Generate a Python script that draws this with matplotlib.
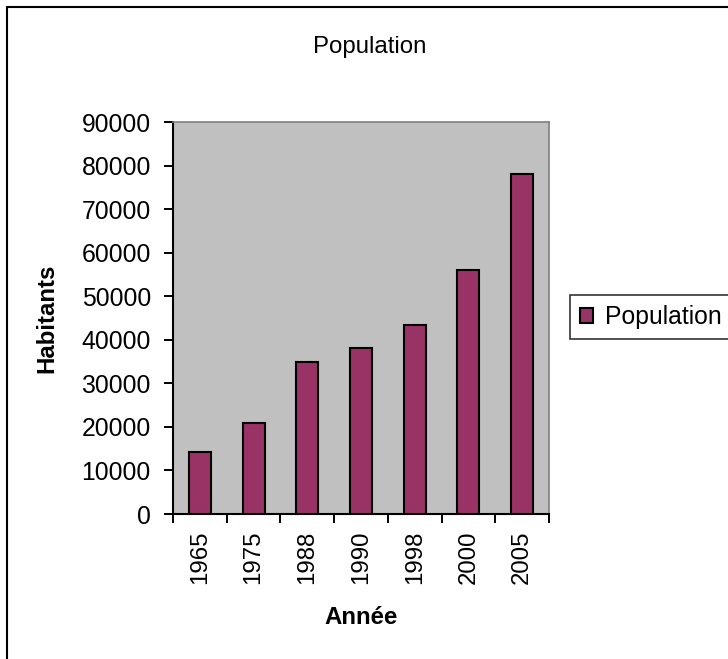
import numpy as np
import matplotlib.pyplot as plt
from matplotlib.patches import Rectangle

plt.rcParams['font.family'] = ['Liberation Sans', 'DejaVu Sans']

# Data
years = ['1965', '1975', '1988', '1990', '1998', '2000', '2005']
population = [14300, 21000, 35000, 38000, 43500, 56000, 78000]
y_ticks = [0, 10000, 20000, 30000, 40000, 50000, 60000, 70000, 80000, 90000]

FS = 17.3

fig = plt.figure(figsize=(7.28, 6.59), dpi=100)
fig.patch.set_facecolor('white')

# outer chart frame (runs off right and bottom edges)
fig.patches.append(Rectangle((7 / 728, -0.05), 1.0, 1 - 7 / 659 + 0.05,
                             transform=fig.transFigure, fill=False,
                             edgecolor='black', linewidth=1.5))

ax = fig.add_axes([173 / 728, 1 - 514 / 659, 376 / 728, 392 / 659])
ax.set_facecolor('#C0C0C0')

x = np.arange(len(years))
bars = ax.bar(x, population, width=0.41, color='#993366',
              edgecolor='black', linewidth=1.5, label='Population', zorder=3)

ax.set_xlim(-0.5, len(years) - 0.5)
ax.set_ylim(0, 90000)
ax.set_yticks(y_ticks)
ax.set_yticklabels([str(v) for v in y_ticks], fontsize=FS + 0.5)
ax.set_xticks(x)
ax.set_xticklabels(years, rotation=90, fontsize=FS)
ax.tick_params(axis='x', which='major', length=0, pad=12)
ax.set_xticks(np.arange(-0.5, len(years)), minor=True)
ax.tick_params(axis='x', which='minor', length=6.5, width=1.4, direction='out')
ax.tick_params(axis='y', length=6.5, width=1.4, direction='out', pad=9.5)

for side in ['left', 'bottom']:
    ax.spines[side].set_color('black')
    ax.spines[side].set_linewidth(1.5)
for side in ['top', 'right']:
    ax.spines[side].set_color('#808080')
    ax.spines[side].set_linewidth(1.2)

ax.set_xlabel('Année', fontsize=FS, fontweight='bold')
ax.set_ylabel('Habitants', fontsize=FS, fontweight='bold')
ax.xaxis.set_label_coords(0.5, (514 - 617) / 392)
ax.yaxis.set_label_coords((47 - 173) / 376, 0.5)
ax.xaxis.label.set_va('center')
ax.yaxis.label.set_va('center')
fig.text(370 / 728, 1 - 47 / 659, 'Population', fontsize=FS,
         ha='center', va='center')

leg = fig.legend(handles=[bars], labels=['Population'], loc='center left',
                 bbox_to_anchor=(570 / 728, 1 - 317 / 659), fontsize=FS + 0.5,
                 frameon=True, fancybox=False, edgecolor='black',
                 handlelength=0.55, handleheight=0.55, handletextpad=0.45,
                 borderpad=0.4, borderaxespad=0)
leg.get_frame().set_linewidth(1.2)

fig.savefig('out.png', dpi=100)
